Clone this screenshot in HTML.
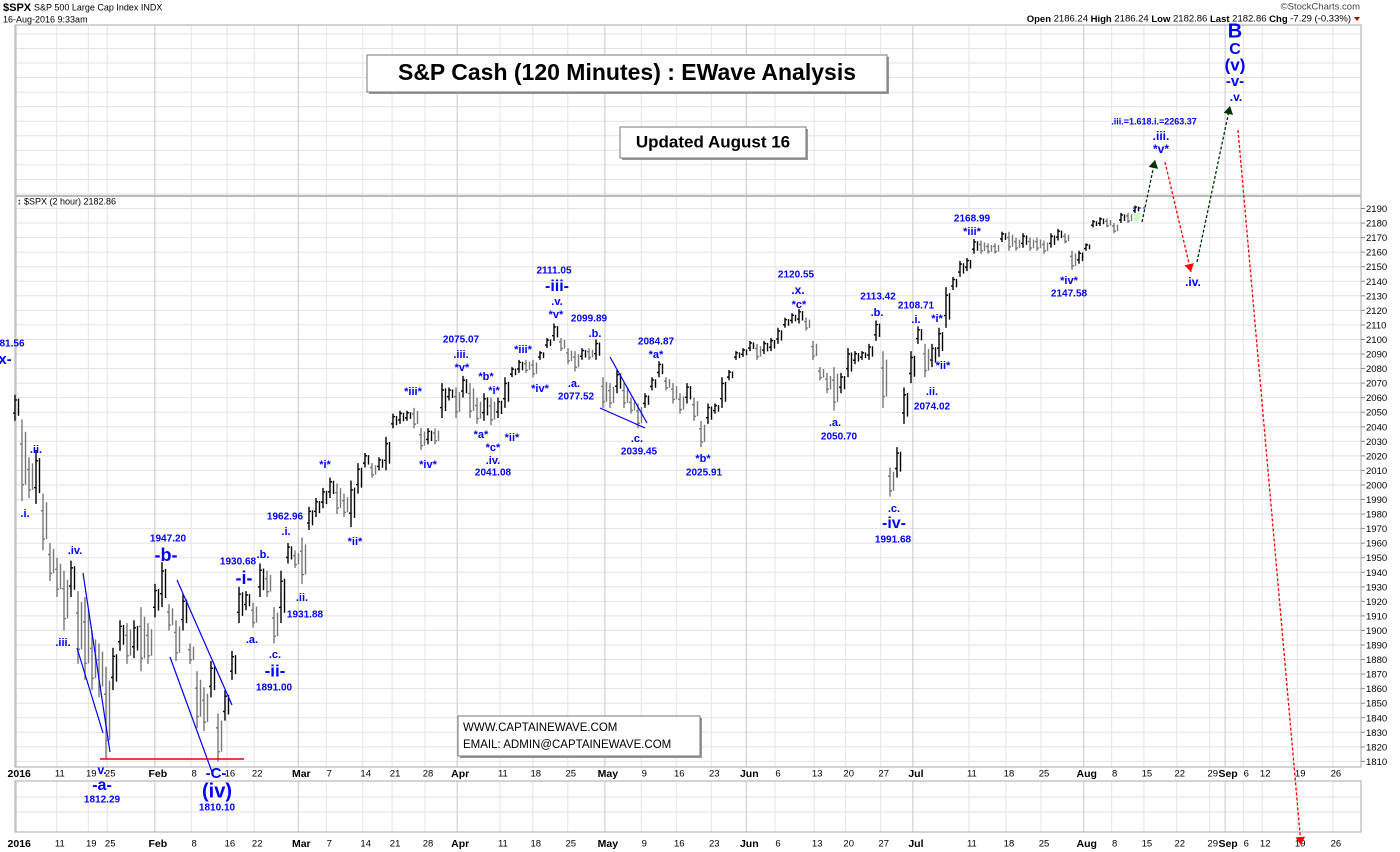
<!DOCTYPE html>
<html><head><meta charset="utf-8"><style>
html,body{margin:0;padding:0;background:#fff;}
body{width:1400px;height:852px;position:relative;overflow:hidden;font-family:"Liberation Sans",Arial,sans-serif;}
svg{position:absolute;left:0;top:0;}
</style></head><body>
<svg id="chart" width="1400" height="852" viewBox="0 0 1400 852"></svg>
<script>
// ---- data ----
const highs=[2062,2045,2019,2024,1994,1960,1950,1941,1948,1927,1923,1900,1891,1875,1888,1907,1905,1907,1916,1905,1932,1947,1918,1907,1925,1891,1872,1861,1879,1843,1859,1886,1930,1927,1919,1946,1941,1916,1941,1960,1955,1964,1985,1991,1998,2005,2001,1994,2003,2015,2022,2015,2019,2033,2049,2051,2051,2053,2039,2039,2039,2070,2067,2067,2075,2070,2060,2063,2060,2060,2074,2081,2086,2086,2086,2092,2101,2111,2101,2094,2092,2094,2094,2100,2074,2070,2079,2070,2060,2056,2063,2074,2085,2074,2070,2063,2070,2060,2044,2056,2056,2074,2079,2092,2094,2099,2097,2099,2101,2108,2115,2118,2121,2115,2099,2081,2077,2081,2077,2094,2092,2092,2097,2113,2092,2012,2026,2067,2092,2109,2097,2097,2108,2136,2143,2154,2156,2169,2168,2166,2166,2174,2174,2170,2173,2170,2170,2168,2173,2176,2173,2161,2161,2166,2182,2184,2183,2180,2187,2187,2192];
const lows=[2044,1989,1991,1987,1955,1934,1923,1900,1923,1877,1866,1859,1854,1812,1859,1886,1877,1881,1872,1877,1909,1916,1900,1879,1900,1877,1833,1831,1854,1810,1838,1866,1905,1914,1902,1923,1923,1891,1905,1946,1943,1932,1969,1978,1984,1991,1980,1978,1971,1994,2012,2005,2010,2010,2039,2042,2044,2039,2024,2028,2028,2046,2058,2046,2060,2046,2042,2044,2041,2046,2053,2074,2077,2077,2074,2086,2094,2099,2092,2083,2078,2086,2086,2086,2053,2053,2063,2053,2049,2039,2053,2065,2074,2065,2056,2049,2056,2044,2026,2042,2049,2053,2072,2086,2088,2092,2086,2090,2092,2097,2108,2111,2111,2106,2086,2072,2063,2051,2063,2074,2083,2086,2086,2099,2053,1992,2005,2042,2070,2097,2074,2081,2088,2108,2134,2143,2147,2159,2159,2159,2159,2167,2161,2161,2163,2161,2161,2159,2163,2168,2166,2148,2152,2161,2177,2178,2177,2173,2180,2180,2187];
const yTicks=[1810,1820,1830,1840,1850,1860,1870,1880,1890,1900,1910,1920,1930,1940,1950,1960,1970,1980,1990,2000,2010,2020,2030,2040,2050,2060,2070,2080,2090,2100,2110,2120,2130,2140,2150,2160,2170,2180,2190];
const xTickLabels=["2016","11","19","25","Feb","8","16","22","Mar","7","14","21","28","Apr","11","18","25","May","9","16","23","Jun","6","13","20","27","Jul","11","18","25","Aug","8","15","22","29","Sep","6","12","19","26"];
const xTickSlots=[0.6,6.4,10.9,13.6,20.4,25.6,30.7,34.6,40.9,44.9,50.1,54.3,59.0,63.6,69.7,74.4,79.4,84.7,89.9,94.9,99.9,104.9,109.0,114.6,119.1,124.1,128.7,136.7,142.0,147.0,153.1,157.1,161.7,166.4,171.1,173.3,175.9,178.6,183.6,188.7];
// ---- scales ----
const X0=15, STEP=7;
function xs(i){return X0+i*STEP;}
function ys(v){return 208.5+(2190-v)*1.455;}
const svg=document.getElementById('chart');
const NS='http://www.w3.org/2000/svg';
function mk(tag,attrs,parent){const e=document.createElementNS(NS,tag);for(const k in attrs)e.setAttribute(k,attrs[k]);(parent||svg).appendChild(e);return e;}
function txt(x,y,s,size,opts){opts=opts||{};const t=mk('text',{x:x,y:y,'font-size':size,'font-family':'"Liberation Sans",Arial,sans-serif','font-weight':opts.w||'bold',fill:opts.c||'#0000ff','text-anchor':opts.a||'middle','dominant-baseline':'middle'},opts.p);t.textContent=s;return t;}
const L=15,R=1361,T=25,B=767;
// frame & grids
const grid=mk('g',{});


for(let y=ys(2190)-14.55;y>T;y-=14.55){mk('line',{x1:L,x2:R,y1:y,y2:y,stroke:'#e2e2e2','stroke-width':1},grid);}
yTicks.forEach(v=>{mk('line',{x1:L,x2:R,y1:ys(v),y2:ys(v),stroke:'#e2e2e2','stroke-width':1},grid);});
[797,812].forEach(y=>mk('line',{x1:L,x2:R,y1:y,y2:y,stroke:'#e2e2e2'},grid));
xTickSlots.forEach((s,k)=>{const x=xs(s)-3;const bold=/[A-Za-z]|2016/.test(xTickLabels[k]);
 mk('line',{x1:x,x2:x,y1:T,y2:B,stroke:bold?'#c8c8c8':'#e4e4e4'},grid);
 mk('line',{x1:x,x2:x,y1:781,y2:832,stroke:bold?'#c8c8c8':'#e4e4e4'},grid);});
mk('rect',{x:L,y:T,width:R-L,height:B-T,fill:'none',stroke:'#aaa'});
mk('line',{x1:L,x2:R,y1:196,y2:196,stroke:'#bbb','stroke-width':2});
mk('rect',{x:L,y:781,width:R-L,height:51,fill:'none',stroke:'#aaa'});
// y labels
const yax=mk('g',{});


yTicks.forEach(v=>{mk('line',{x1:R,x2:R+4,y1:ys(v),y2:ys(v),stroke:'#888'},yax);txt(R+5,ys(v)+1,String(v),9.5,{w:'normal',c:'#000',a:'start',p:yax});});
// x labels
const xax=mk('g',{});


xTickLabels.forEach((s,k)=>{const bold=/[A-Za-z]|2016/.test(s);const x=xs(xTickSlots[k]);
 txt(x,774,s,bold?10.5:9.5,{w:bold?'bold':'normal',c:'#000',p:xax});
 txt(x,844,s,bold?10.5:9.5,{w:bold?'bold':'normal',c:'#000',p:xax});});
// price bars
const bars=mk('g',{});


highs.forEach((h,i)=>{const l=lows[i];const x=xs(i);const up=i===0||(h+l)>(highs[i-1]+lows[i-1]);const col=up?'#000':'#777';
 const b=mk('path',{d:`M${x} ${ys(h)}V${ys(l)}M${x-2} ${ys(up?l+ (h-l)*0.3:h-(h-l)*0.3)}H${x}M${x} ${ys(up?h-(h-l)*0.2:l+(h-l)*0.2)}H${x+2}M${x+3.5} ${ys(h-(h-l)*0.15)}V${ys(l+(h-l)*0.2)}`,stroke:col,'stroke-width':1.4,fill:'none'},bars);
 
 
});
// annotation lines
const ann=mk('g',{});


[[83,573,110,752],[77,648,103,733],[177,580,232,705],[170,657,212,772],[610,357,647,423],[600,408,645,428]].forEach(a=>mk('line',{x1:a[0],y1:a[1],x2:a[2],y2:a[3],stroke:'#0000ff','stroke-width':1.2},ann));
mk('line',{x1:100,x2:244,y1:759,y2:759,stroke:'#e00','stroke-width':1.5},ann);
// projections
const proj=mk('g',{});


function arrow(x1,y1,x2,y2,col){mk('line',{x1:x1,y1:y1,x2:x2,y2:y2,stroke:col,'stroke-width':1.3,'stroke-dasharray':'3,2'},proj);
 const a=Math.atan2(y2-y1,x2-x1),s=8;const p=[[x2,y2],[x2-s*Math.cos(a)+s*0.6*Math.sin(a),y2-s*Math.sin(a)-s*0.6*Math.cos(a)],[x2-s*Math.cos(a)-s*0.6*Math.sin(a),y2-s*Math.sin(a)+s*0.6*Math.cos(a)]];
 mk('polygon',{points:p.map(q=>q.join(',')).join(' '),fill:col},proj);}
arrow(1142,222,1155,160,'#003300');
arrow(1165,162,1191,272,'#ff0000');
arrow(1197,262,1230,106,'#003300');
arrow(1238,130,1301,845,'#ff0000');
mk('line',{x1:1133,x2:1145,y1:208,y2:208,stroke:'#00f','stroke-dasharray':'3,2'},proj);
mk('rect',{x:1134,y:213,width:6,height:8,fill:'#cfc'},proj);
// labels
const labs=[
[12,344,'81.56',10],[5,360,'x-',15],[36,450,'.ii.',11],[25,514,'.i.',11],[75,551,'.iv.',11],[63,643,'.iii.',11],[102,771,'v.',12],[102,786,'-a-',16],[102,800,'1812.29',10],
[168,539,'1947.20',10],[166,556,'-b-',18],[238,562,'1930.68',10],[244,579,'-i-',18],[263,555,'.b.',11],[252,640,'.a.',11],[275,655,'.c.',11],[275,672,'-ii-',17],[274,688,'1891.00',10],
[285,517,'1962.96',10],[286,532,'.i.',11],[302,598,'.ii.',11],[305,615,'1931.88',10],[325,465,'*i*',11],[355,542,'*ii*',11],[413,392,'*iii*',11],[428,465,'*iv*',11],
[461,340,'2075.07',10],[461,355,'.iii.',11],[462,368,'*v*',11],[486,377,'*b*',11],[494,391,'*i*',11],[481,435,'*a*',11],[493,448,'*c*',11],[512,438,'*ii*',11],[493,461,'.iv.',11],[493,473,'2041.08',10],
[523,350,'*iii*',11],[540,389,'*iv*',11],[554,271,'2111.05',10],[557,287,'-iii-',16],[557,302,'.v.',11],[556,315,'*v*',11],[574,384,'.a.',11],[576,397,'2077.52',10],[589,319,'2099.89',10],[595,334,'.b.',11],
[656,342,'2084.87',10],[656,355,'*a*',11],[637,439,'.c.',11],[639,452,'2039.45',10],[703,459,'*b*',11],[704,473,'2025.91',10],
[796,275,'2120.55',10],[798,291,'.x.',12],[799,305,'*c*',11],[835,423,'.a.',11],[839,437,'2050.70',10],
[878,297,'2113.42',10],[877,313,'.b.',11],[894,509,'.c.',11],[894,524,'-iv-',16],[893,540,'1991.68',10],
[916,306,'2108.71',10],[916,320,'.i.',11],[937,319,'*i*',11],[943,366,'*ii*',11],[932,392,'.ii.',11],[932,407,'2074.02',10],
[972,219,'2168.99',10],[972,232,'*iii*',11],[1069,281,'*iv*',11],[1069,294,'2147.58',10],
[1154,122,'.iii.=1.618.i.=2263.37',9],[1161,137,'.iii.',12],[1161,150,'*v*',12],[1193,283,'.iv.',12],
[1235,32,'B',20],[1235,50,'C',16],[1235,66,'(v)',17],[1235,82,'-v-',15],[1236,98,'.v.',12],
[216,774,'-C-',15],[217,792,'(iv)',20],[217,808,'1810.10',10]];
labs.forEach(l=>{const t=txt(l[0],l[1],l[2],l[3],{p:ann});});
// header
const hd=mk('g',{});


txt(3,8,'$SPX',11,{c:'#000',a:'start',p:hd});
txt(34,8,'S&P 500 Large Cap Index  INDX',9,{w:'normal',c:'#000',a:'start',p:hd});
txt(3,20,'16-Aug-2016 9:33am',9,{w:'normal',c:'#000',a:'start',p:hd});
txt(1360,7,'\u00a9StockCharts.com',9.5,{w:'normal',c:'#444',a:'end',p:hd});
const ohlc=txt(1351,19,'',9.5,{w:'normal',c:'#000',a:'end',p:hd});
ohlc.innerHTML='<tspan font-weight="bold">Open</tspan> 2186.24  <tspan font-weight="bold">High</tspan> 2186.24  <tspan font-weight="bold">Low</tspan> 2182.86  <tspan font-weight="bold">Last</tspan> 2182.86  <tspan font-weight="bold">Chg</tspan> -7.29 (-0.33%)';
mk('polygon',{points:'1354,17 1360,17 1357,21',fill:'#a00'},hd);
txt(17,202,'\u2195 $SPX (2 hour) 2182.86',9,{w:'normal',c:'#000',a:'start',p:hd});
// boxes
function box(x,y,w,h,s,fs,name){const g=mk('g',{});
 mk('rect',{x:x+2,y:y+2,width:w,height:h,fill:'#999'},g);mk('rect',{x:x,y:y,width:w,height:h,fill:'#fff',stroke:'#777'},g);
 return g;}
const b1=box(367,55,520,37,'',24,'title-box');txt(627,74,'S&P Cash (120 Minutes) : EWave Analysis',23,{c:'#000',p:b1});
const b2=box(620,127,186,31,'',18,'updated-box');txt(713,143,'Updated August 16',17,{c:'#000',p:b2});
const b3=box(458,716,242,40,'',12,'contact-box');txt(463,728,'WWW.CAPTAINEWAVE.COM',11.5,{c:'#000',a:'start',w:'normal',p:b3});txt(463,745,'EMAIL: ADMIN@CAPTAINEWAVE.COM',11.5,{c:'#000',a:'start',w:'normal',p:b3});
</script>
</body></html>
